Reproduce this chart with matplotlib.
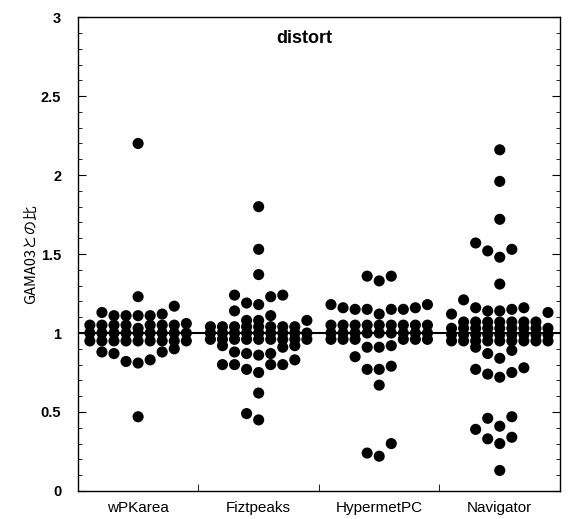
import numpy as np
import matplotlib
matplotlib.use('Agg')
import matplotlib.pyplot as plt
from matplotlib.ticker import MultipleLocator

plt.rcParams['font.family'] = ['Liberation Sans', 'DejaVu Sans']

# categories and ratio values
programs = ['wPKarea', 'Fiztpeaks', 'HypermetPC', 'Navigator']

wpkarea = [2.20, 1.23, 1.17, 1.13, 1.12, 1.11, 1.11, 1.11, 1.11, 1.06, 1.03,
           1.05, 1.05, 1.05, 1.05, 1.05, 1.05, 1.05,
           1.00, 1.00, 1.00, 1.00, 1.00, 1.00, 1.00, 1.00, 1.00,
           0.95, 0.95, 0.95, 0.95, 0.95, 0.95, 0.95, 0.95, 0.95,
           0.90, 0.88, 0.88, 0.87, 0.83, 0.82, 0.81, 0.47]

fiztpeaks = [1.80, 1.53, 1.37, 1.24, 1.23, 1.18, 1.19, 1.24, 1.14, 1.11,
             1.08, 1.08, 1.08,
             1.04, 1.04, 1.04, 1.04, 1.04, 1.04, 1.04, 1.04,
             1.00, 1.00, 1.00, 1.00, 1.00, 1.00, 1.00, 1.00, 1.00,
             0.96, 0.96, 0.96, 0.96, 0.96, 0.96, 0.96, 0.96, 0.96,
             0.92, 0.92, 0.91, 0.88, 0.87, 0.87, 0.86,
             0.83, 0.80, 0.80, 0.80, 0.80, 0.77, 0.75, 0.62, 0.49, 0.45]

hypermet = [1.36, 1.33, 1.36, 1.18, 1.18, 1.16, 1.16, 1.15, 1.15, 1.15, 1.15, 1.12,
            1.05, 1.05, 1.05, 1.05, 1.05, 1.05, 1.05, 1.05, 1.05,
            1.00, 1.00, 1.00, 1.00, 1.00, 1.00, 1.00, 1.00, 1.00,
            0.96, 0.96, 0.96, 0.96, 0.96, 0.96,
            0.92, 0.91, 0.91, 0.85, 0.79, 0.77, 0.77, 0.67, 0.30, 0.24, 0.22]

navigator = [2.16, 1.96, 1.72, 1.57, 1.53, 1.52, 1.48, 1.31, 1.21,
             1.16, 1.16, 1.15, 1.14, 1.14, 1.13, 1.12,
             1.07, 1.07, 1.07, 1.07, 1.07, 1.07, 1.07,
             1.03, 1.03, 1.03, 1.03, 1.03, 1.03, 1.03, 1.03, 1.03,
             0.99, 0.99, 0.99, 0.99, 0.99, 0.99, 0.99, 0.99, 0.99,
             0.95, 0.95, 0.95, 0.95, 0.95, 0.95, 0.95, 0.95, 0.95,
             0.91, 0.89, 0.87, 0.84, 0.78, 0.77, 0.75, 0.74, 0.72,
             0.47, 0.46, 0.41, 0.39, 0.34, 0.33, 0.30, 0.13]

groups = [wpkarea, fiztpeaks, hypermet, navigator]


def dot_rows(vals, h=0.095, maxrow=9, step=0.1):
    # gather sorted values into rows, then spread each row out from the centre
    order = [0]
    for k in range(1, 10):
        order += [-k, k]
    rows, cur = [], []
    for v in sorted(vals):
        if cur and (v - cur[0] >= h or len(cur) >= maxrow):
            rows.append(cur)
            cur = []
        cur.append(v)
    rows.append(cur)
    xs, ys = [], []
    for row in rows:
        for j, v in enumerate(row):
            xs.append(order[j] * step)
            ys.append(v)
    return np.array(xs), np.array(ys)


fig = plt.figure(figsize=(5.68, 5.19), dpi=100)
ax = fig.add_axes([0.137, 0.054, 0.849, 0.913])

for i, vals in enumerate(groups):
    dx, y = dot_rows(vals)
    ax.scatter(i + dx, y, s=64, color='black', edgecolors='none', zorder=3)

ax.axhline(1.0, color='black', lw=1.5, zorder=2)

ax.set_xlim(-0.5, 3.5)
ax.set_ylim(0, 3)
ax.set_xticks(range(4))
ax.set_xticklabels(programs, fontsize=11)
ax.set_xticks([0.5, 1.5, 2.5], minor=True)
ax.tick_params(axis='x', which='major', length=0, pad=7)
ax.tick_params(axis='x', which='minor', direction='in', length=5, top=False)

ax.set_yticks([0, 0.5, 1, 1.5, 2, 2.5, 3])
ax.set_yticklabels(['0', '0.5', '1', '1.5', '2', '2.5', '3'], fontsize=10.5, fontweight='bold')
ax.yaxis.set_minor_locator(MultipleLocator(0.1))
ax.tick_params(axis='y', which='major', direction='in', length=6, right=True, pad=12)
ax.tick_params(axis='y', which='minor', direction='in', length=3, right=True)

ax.set_ylabel('GAMA03との比', fontsize=10.5, family=['Noto Sans CJK JP', 'DejaVu Sans'],
              labelpad=2)
ax.text(0.47, 0.955, 'distort', transform=ax.transAxes, ha='center', va='center',
        fontsize=13, fontweight='bold')

for s in ax.spines.values():
    s.set_linewidth(1.0)

fig.savefig('out.png', dpi=100)
